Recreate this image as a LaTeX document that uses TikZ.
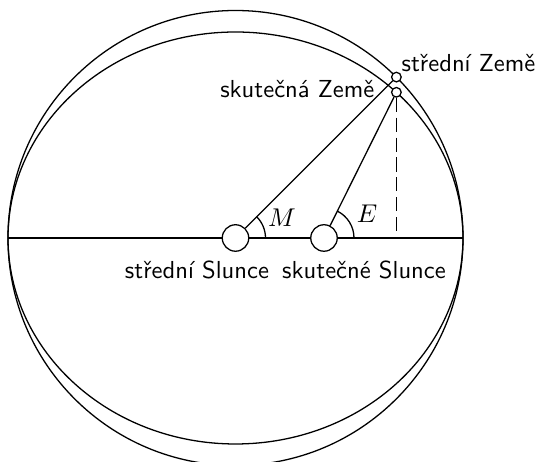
\documentclass[tikz,border=0pt]{standalone}
\usepackage{fontspec}
\begin{document}
\begin{tikzpicture}[x=0.015cm,y=0.015cm,line width=0.55pt,
  sun/.style={circle,draw,fill=white,minimum size=11.3pt,inner sep=0pt},
  earth/.style={circle,draw,fill=white,minimum size=4.1pt,inner sep=0pt},
  lbl/.style={font=\fontsize{10.5}{12.5}\selectfont\sffamily,inner sep=0pt},
  mlbl/.style={font=\fontsize{10.5}{12.5}\selectfont,inner sep=0pt}]
\useasboundingbox (0,0) rectangle (536,462);
\coordinate (c) at (235.5,224);
\draw (c) circle[radius=227.5];
\draw (c) ellipse[x radius=227.5,y radius=206];
\coordinate (L) at (8,224);
\coordinate (R) at (463,224);
\draw (L) -- (R);
\node[sun] (ms) at (235.5,224) {};
\node[sun] (ts) at (324,224) {};
\node[earth] (me) at (396.4,384.9) {};
\node[earth] (te) at (396.4,369.7) {};
\draw (ms) -- (me);
\draw (ts) -- (te);
\coordinate (foot) at (396.4,224);
\draw[dash pattern=on 6pt off 2.5pt] (te) -- (foot);
\draw ([shift={(30,0)}]ms.center) arc[start angle=0,end angle=45,radius=30];
\draw ([shift={(30,0)}]ts.center) arc[start angle=0,end angle=63.6,radius=30];
\node[mlbl] (lM) at (282,244) {$M$};
\node[mlbl] (lE) at (367,248) {$E$};
\node[lbl] (lms) at (197,192) {střední Slunce};
\node[lbl] (lts) at (364,192) {skutečné Slunce};
\node[lbl,anchor=east] (lte) at (375,373) {skutečná Země};
\node[lbl,anchor=west] (lme) at (401,399) {střední Země};
\end{tikzpicture}
\end{document}
